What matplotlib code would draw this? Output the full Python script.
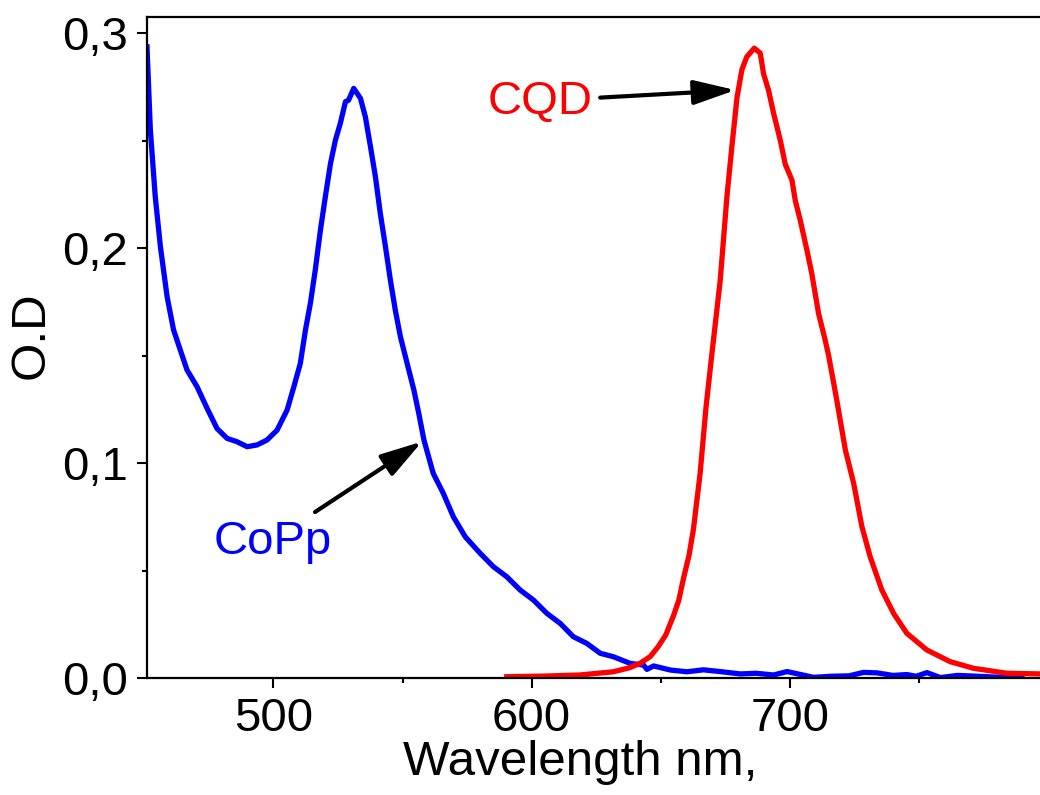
import matplotlib
matplotlib.use("Agg")
import matplotlib.pyplot as plt
from matplotlib.ticker import FuncFormatter, MultipleLocator

# absorption spectra
copp_wl = [451, 452.3, 454.2, 456.2, 458.8, 461.3, 463.9, 466.5, 470.4, 474.3, 478.1, 482.0,
           485.9, 489.8, 493.6, 497.5, 501.4, 505.3, 507.9, 510.4, 512.4, 514.3, 516.2, 518.2,
           520.1, 522.1, 524.0, 525.9, 527.9, 529.1, 531.1, 533.7, 535.6, 537.6, 539.5, 541.4,
           543.4, 545.3, 547.2, 549.2, 551.8, 554.4, 556.3, 558.3, 561.9, 565.8, 569.7, 574.3,
           580.1, 585.2, 590.4, 595.6, 600.7, 605.9, 611.1, 616.2, 621.4, 626.6, 631.7, 638.2,
           643.4, 644.7, 647.3, 653.8, 660.2, 666.6, 673, 680.9, 687, 693.8, 699, 702.8, 709.3,
           716, 723, 728.6, 733.8, 740, 745.4, 749, 753.2, 758.4, 765, 771.3, 780, 790]
copp_od = [0.2936, 0.2549, 0.2239, 0.2006, 0.1773, 0.1619, 0.1526, 0.1433, 0.1355, 0.1254,
           0.1161, 0.1115, 0.1099, 0.1076, 0.1084, 0.1107, 0.1153, 0.1247, 0.1355, 0.1463,
           0.1619, 0.1743, 0.1898, 0.2084, 0.2239, 0.2394, 0.2502, 0.2580, 0.2681, 0.2688,
           0.2743, 0.2697, 0.2611, 0.2471, 0.2332, 0.2161, 0.2006, 0.1851, 0.1712, 0.1587,
           0.1463, 0.1340, 0.1231, 0.1107, 0.0952, 0.0859, 0.0750, 0.0657, 0.0580, 0.0518,
           0.0471, 0.0409, 0.0363, 0.0301, 0.0254, 0.0192, 0.0161, 0.0115, 0.0099, 0.0068,
           0.0060, 0.0040, 0.0056, 0.0037, 0.0029, 0.0038, 0.0030, 0.0019, 0.0022, 0.0014,
           0.0030, 0.0020, 0.0003, 0.0008, 0.0010, 0.0026, 0.0024, 0.0012, 0.0016, 0.0008,
           0.0025, 0.0002, 0.0012, 0.0009, 0.0004, 0.0003]

cqd_wl = [590.4, 605, 618.8, 631.7, 638, 642, 646, 649, 652, 655, 657, 659, 661, 662.7,
          665.3, 667.6, 669.8, 673.1, 675.7, 677.6, 679.6, 681.5, 683.4, 686.3, 688.6, 689.9,
          691.8, 693.8, 696.4, 698.3, 700.9, 702.2, 704.1, 706.7, 708.6, 711.2, 713.8, 715.1,
          718.3, 721.6, 724.8, 728.0, 731.2, 735.7, 740.3, 745.4, 753.2, 762.2, 771.3, 784.2, 797]
cqd_od = [0.0006, 0.0009, 0.0014, 0.0029, 0.0048, 0.0068, 0.0100, 0.0145, 0.0200, 0.0290,
          0.0360, 0.0470, 0.0570, 0.0690, 0.0950, 0.1260, 0.1500, 0.1850, 0.2240, 0.2470,
          0.2700, 0.2830, 0.2890, 0.2930, 0.2907, 0.2810, 0.2735, 0.2626, 0.2500, 0.2390,
          0.2316, 0.2220, 0.2130, 0.1990, 0.1880, 0.1696, 0.1570, 0.1500, 0.1290, 0.1060,
          0.0906, 0.0704, 0.0564, 0.0410, 0.0300, 0.0208, 0.0130, 0.0076, 0.0045, 0.0022, 0.0019]

plt.rcParams['font.family'] = ['Liberation Sans', 'DejaVu Sans']

fig = plt.figure(figsize=(10.4, 7.95), dpi=100)
ax = fig.add_axes([147 / 1040, 117 / 795, 893 / 1040, 661 / 795])

ax.plot(copp_wl, copp_od, color='#0000ff', lw=3.8, solid_joinstyle='round')
ax.plot(cqd_wl, cqd_od, color='#ff0000', lw=3.8, solid_joinstyle='round')

ax.set_xlim(451, 797)
ax.set_ylim(0, 0.3075)

ax.spines['right'].set_visible(False)
for s in ['left', 'bottom', 'top']:
    ax.spines[s].set_linewidth(1.6)

ax.xaxis.set_major_locator(MultipleLocator(100))
ax.xaxis.set_minor_locator(MultipleLocator(50))
ax.yaxis.set_major_locator(MultipleLocator(0.1))
ax.yaxis.set_minor_locator(MultipleLocator(0.05))
ax.yaxis.set_major_formatter(FuncFormatter(lambda v, p: f"{v:.1f}".replace('.', ',')))
ax.tick_params(which='major', direction='out', length=7.5, width=1.5, labelsize=34, pad=6)
ax.tick_params(which='minor', direction='out', length=3.8, width=1.5)
ax.tick_params(top=False, right=False, which='both')

ax.set_xlabel('Wavelength nm,', fontsize=35.5)
ax.xaxis.set_label_coords(0.485, -0.094)
ax.set_ylabel('O.D', fontsize=35.5)
ax.yaxis.set_label_coords(-0.105, 0.519)

ax.text(477, 0.0577, 'CoPp', color='#0000ff', fontsize=34, ha='left', va='baseline')
ax.text(623.5, 0.2623, 'CQD', color='#ff0000', fontsize=34, ha='right', va='baseline')

arrow = dict(arrowstyle='-|>,head_length=0.75,head_width=0.22', color='black', lw=3,
             shrinkA=0, shrinkB=0, mutation_scale=34)
ax.annotate('', xy=(557.6, 0.110), xytext=(516.1, 0.0772), arrowprops=arrow)
ax.annotate('', xy=(679, 0.2735), xytext=(626.6, 0.270), arrowprops=arrow)

fig.savefig('out.png', dpi=100)
